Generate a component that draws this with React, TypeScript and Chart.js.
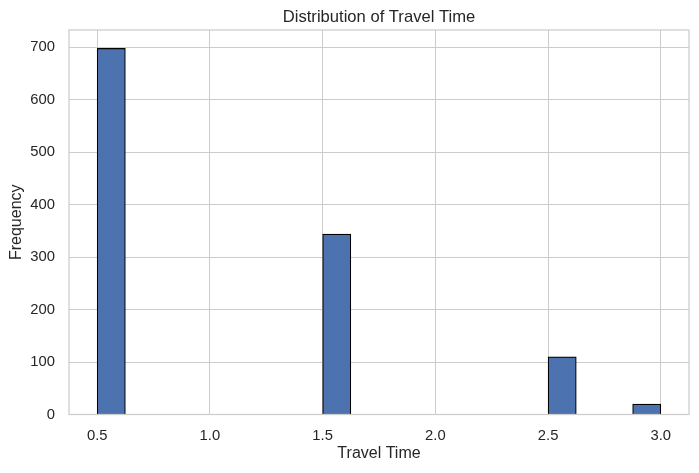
import { useEffect, useRef } from 'react';
import Chart from 'chart.js/auto';

// histogram bins (width 0.125, from 0.5 to 3.0), centres and counts
const binCenters = [
  0.5625, 0.6875, 0.8125, 0.9375, 1.0625, 1.1875, 1.3125, 1.4375, 1.5625, 1.6875,
  1.8125, 1.9375, 2.0625, 2.1875, 2.3125, 2.4375, 2.5625, 2.6875, 2.8125, 2.9375,
];
const binCounts = [698, 0, 0, 0, 0, 0, 0, 0, 344, 0, 0, 0, 0, 0, 0, 0, 110, 0, 0, 20];
const xTickValues = [0.5, 1.0, 1.5, 2.0, 2.5, 3.0];
const yTickValues = [0, 100, 200, 300, 400, 500, 600, 700];

const FONT = '"Liberation Sans", Arial, sans-serif';
const TEXT = '#262626';
const GRID = '#cccccc';

export default function App() {
  const canvasRef = useRef<HTMLCanvasElement>(null);
  const chartRef = useRef<Chart | null>(null);

  useEffect(() => {
    document.body.style.margin = '0';
    if (!canvasRef.current) return;
    if (chartRef.current) chartRef.current.destroy();

    const ctx = canvasRef.current.getContext('2d');
    if (!ctx) return;

    // Frame round the plot area and the title above it
    const framePlugin = {
      id: 'frame',
      afterDatasetsDraw(chart: Chart) {
        const { ctx, chartArea } = chart;
        ctx.save();
        ctx.strokeStyle = GRID;
        ctx.lineWidth = 1.25;
        ctx.strokeRect(chartArea.left, chartArea.top, chartArea.right - chartArea.left, chartArea.bottom - chartArea.top);
        ctx.fillStyle = TEXT;
        ctx.font = `16.6px ${FONT}`;
        ctx.textAlign = 'center';
        ctx.textBaseline = 'middle';
        ctx.fillText('Distribution of Travel Time', (chartArea.left + chartArea.right) / 2, 17);
        ctx.restore();
      },
    };

    chartRef.current = new Chart(ctx, {
      type: 'bar',
      data: {
        labels: binCenters,
        datasets: [
          {
            label: 'Travel Time',
            data: binCenters.map((x, i) => ({ x, y: binCounts[i] })),
            backgroundColor: '#4c72b0',
            borderColor: '#000000',
            borderWidth: 1.2,
            barPercentage: 1,
            categoryPercentage: 1,
          },
        ],
      },
      options: {
        animation: false,
        responsive: true,
        maintainAspectRatio: false,
        layout: { padding: { top: 30, right: 10, left: 0, bottom: 0 } },
        scales: {
          x: {
            type: 'linear',
            min: 0.375,
            max: 3.125,
            offset: false,
            afterBuildTicks: (scale: any) => {
              scale.ticks = xTickValues.map(value => ({ value }));
            },
            afterFit: (scale: any) => {
              scale.height = 58.5;
            },
            ticks: {
              color: TEXT,
              font: { family: FONT, size: 14.8 },
              padding: 13,
              maxRotation: 0,
              callback: (v: any) => Number(v).toFixed(1),
            },
            grid: { color: GRID, lineWidth: 1, drawTicks: false, offset: false },
            border: { display: false },
            title: {
              display: true,
              text: 'Travel Time',
              color: TEXT,
              font: { family: FONT, size: 16, lineHeight: 1.2 },
              padding: { top: 0, bottom: 9.4 },
            },
          },
          y: {
            min: 0,
            max: 733,
            afterBuildTicks: (scale: any) => {
              scale.ticks = yTickValues.map(value => ({ value }));
            },
            afterFit: (scale: any) => {
              scale.width = 69;
            },
            ticks: {
              color: TEXT,
              font: { family: FONT, size: 14.8 },
              padding: 14,
            },
            grid: { color: GRID, lineWidth: 1, drawTicks: false },
            border: { display: false },
            title: {
              display: true,
              text: 'Frequency',
              color: TEXT,
              font: { family: FONT, size: 16, lineHeight: 1.2 },
              padding: { top: 7, bottom: 0 },
            },
          },
        },
        plugins: {
          legend: { display: false },
          tooltip: { enabled: false },
        },
      },
      plugins: [framePlugin],
    });

    return () => {
      if (chartRef.current) {
        chartRef.current.destroy();
        chartRef.current = null;
      }
    };
  }, []);

  return (
    <div style={{ position: 'relative', width: 699, height: 473 }}>
      <canvas ref={canvasRef}></canvas>
    </div>
  );
}
